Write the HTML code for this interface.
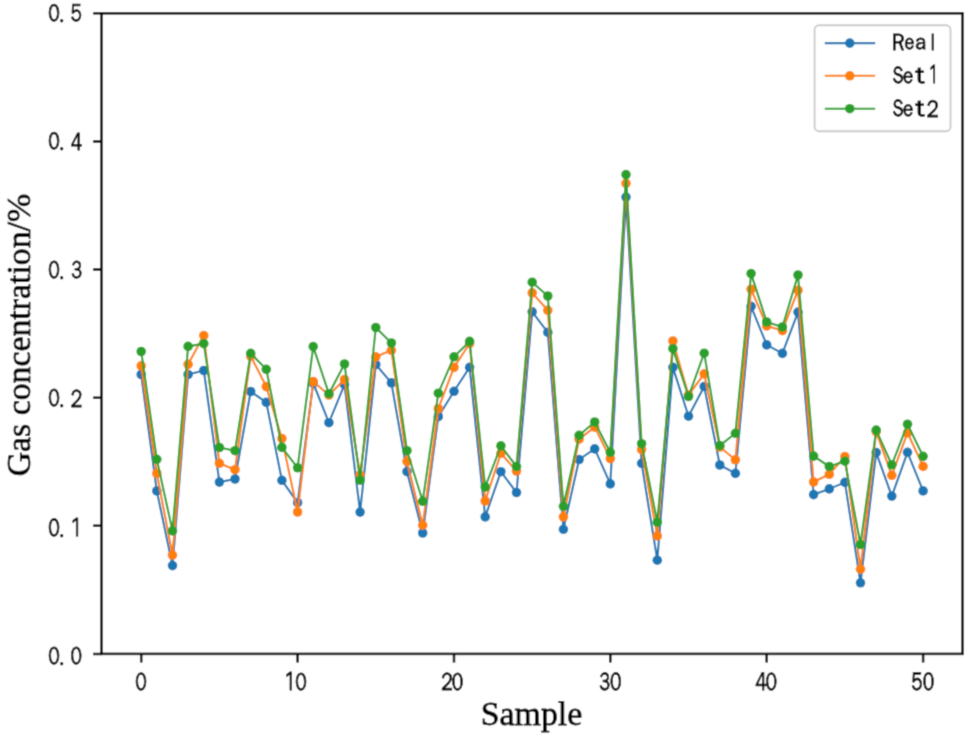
<!DOCTYPE html>
<html><head><meta charset="utf-8"><title>Gas concentration chart</title>
<style>html,body{margin:0;padding:0;background:#fff;width:968px;height:736px;overflow:hidden}svg{display:block}</style>
</head><body>
<svg width="968" height="736" viewBox="0 0 968 736">
<defs><filter id="soft" x="0" y="0" width="968" height="736" filterUnits="userSpaceOnUse"><feConvolveMatrix order="3" kernelMatrix="0.0622 0.2494 0.0622 0.2494 1.0000 0.2494 0.0622 0.2494 0.0622" edgeMode="duplicate" preserveAlpha="false"/></filter></defs>
<g filter="url(#soft)"><rect x="0" y="0" width="968" height="736" fill="#fff"/>
<clipPath id="c"><rect x="101.5" y="13.3" width="861.0" height="640.6"/></clipPath>
<g clip-path="url(#c)">
<polyline points="141.2,374.5 156.8,490.9 172.5,565.6 188.1,374.5 203.8,370.5 219.4,482.1 235.0,479.0 250.7,391.5 266.3,402.4 281.9,480.3 297.6,502.7 313.2,383.0 328.9,422.7 344.5,384.7 360.1,512.1 375.8,364.5 391.4,382.9 407.0,471.7 422.7,533.0 438.3,416.7 454.0,391.3 469.6,367.4 485.2,516.9 500.9,471.7 516.5,492.5 532.2,311.8 547.8,332.4 563.4,529.3 579.1,459.5 594.7,448.9 610.3,483.9 626.0,197.1 641.6,463.3 657.3,560.2 672.9,367.4 688.5,416.2 704.2,386.5 719.8,465.0 735.4,473.4 751.1,306.4 766.7,344.9 782.4,353.4 798.0,312.1 813.6,494.6 829.3,488.9 844.9,482.4 860.5,582.8 876.2,452.6 891.8,496.1 907.5,452.3 923.1,490.9" fill="none" stroke="#1f77b4" stroke-width="2.1" stroke-linejoin="round" stroke-linecap="butt"/>
<g fill="#1f77b4"><circle cx="141.2" cy="374.5" r="4.8"/><circle cx="156.8" cy="490.9" r="4.8"/><circle cx="172.5" cy="565.6" r="4.8"/><circle cx="188.1" cy="374.5" r="4.8"/><circle cx="203.8" cy="370.5" r="4.8"/><circle cx="219.4" cy="482.1" r="4.8"/><circle cx="235.0" cy="479.0" r="4.8"/><circle cx="250.7" cy="391.5" r="4.8"/><circle cx="266.3" cy="402.4" r="4.8"/><circle cx="281.9" cy="480.3" r="4.8"/><circle cx="297.6" cy="502.7" r="4.8"/><circle cx="313.2" cy="383.0" r="4.8"/><circle cx="328.9" cy="422.7" r="4.8"/><circle cx="344.5" cy="384.7" r="4.8"/><circle cx="360.1" cy="512.1" r="4.8"/><circle cx="375.8" cy="364.5" r="4.8"/><circle cx="391.4" cy="382.9" r="4.8"/><circle cx="407.0" cy="471.7" r="4.8"/><circle cx="422.7" cy="533.0" r="4.8"/><circle cx="438.3" cy="416.7" r="4.8"/><circle cx="454.0" cy="391.3" r="4.8"/><circle cx="469.6" cy="367.4" r="4.8"/><circle cx="485.2" cy="516.9" r="4.8"/><circle cx="500.9" cy="471.7" r="4.8"/><circle cx="516.5" cy="492.5" r="4.8"/><circle cx="532.2" cy="311.8" r="4.8"/><circle cx="547.8" cy="332.4" r="4.8"/><circle cx="563.4" cy="529.3" r="4.8"/><circle cx="579.1" cy="459.5" r="4.8"/><circle cx="594.7" cy="448.9" r="4.8"/><circle cx="610.3" cy="483.9" r="4.8"/><circle cx="626.0" cy="197.1" r="4.8"/><circle cx="641.6" cy="463.3" r="4.8"/><circle cx="657.3" cy="560.2" r="4.8"/><circle cx="672.9" cy="367.4" r="4.8"/><circle cx="688.5" cy="416.2" r="4.8"/><circle cx="704.2" cy="386.5" r="4.8"/><circle cx="719.8" cy="465.0" r="4.8"/><circle cx="735.4" cy="473.4" r="4.8"/><circle cx="751.1" cy="306.4" r="4.8"/><circle cx="766.7" cy="344.9" r="4.8"/><circle cx="782.4" cy="353.4" r="4.8"/><circle cx="798.0" cy="312.1" r="4.8"/><circle cx="813.6" cy="494.6" r="4.8"/><circle cx="829.3" cy="488.9" r="4.8"/><circle cx="844.9" cy="482.4" r="4.8"/><circle cx="860.5" cy="582.8" r="4.8"/><circle cx="876.2" cy="452.6" r="4.8"/><circle cx="891.8" cy="496.1" r="4.8"/><circle cx="907.5" cy="452.3" r="4.8"/><circle cx="923.1" cy="490.9" r="4.8"/></g>

<polyline points="141.2,365.8 156.8,473.4 172.5,555.1 188.1,364.3 203.8,335.6 219.4,463.3 235.0,469.7 250.7,356.0 266.3,386.6 281.9,438.6 297.6,512.0 313.2,381.5 328.9,395.0 344.5,379.5 360.1,475.0 375.8,356.8 391.4,350.3 407.0,461.4 422.7,525.2 438.3,408.7 454.0,367.4 469.6,343.5 485.2,501.0 500.9,453.3 516.5,471.1 532.2,292.9 547.8,310.3 563.4,516.9 579.1,439.2 594.7,427.1 610.3,458.6 626.0,183.3 641.6,449.6 657.3,535.9 672.9,341.0 688.5,395.0 704.2,373.9 719.8,447.0 735.4,459.8 751.1,289.2 766.7,325.9 782.4,330.6 798.0,290.2 813.6,482.0 829.3,474.3 844.9,456.6 860.5,569.2 876.2,431.6 891.8,475.3 907.5,432.8 923.1,466.4" fill="none" stroke="#ff7f0e" stroke-width="2.1" stroke-linejoin="round" stroke-linecap="butt"/>
<g fill="#ff7f0e"><circle cx="141.2" cy="365.8" r="4.8"/><circle cx="156.8" cy="473.4" r="4.8"/><circle cx="172.5" cy="555.1" r="4.8"/><circle cx="188.1" cy="364.3" r="4.8"/><circle cx="203.8" cy="335.6" r="4.8"/><circle cx="219.4" cy="463.3" r="4.8"/><circle cx="235.0" cy="469.7" r="4.8"/><circle cx="250.7" cy="356.0" r="4.8"/><circle cx="266.3" cy="386.6" r="4.8"/><circle cx="281.9" cy="438.6" r="4.8"/><circle cx="297.6" cy="512.0" r="4.8"/><circle cx="313.2" cy="381.5" r="4.8"/><circle cx="328.9" cy="395.0" r="4.8"/><circle cx="344.5" cy="379.5" r="4.8"/><circle cx="360.1" cy="475.0" r="4.8"/><circle cx="375.8" cy="356.8" r="4.8"/><circle cx="391.4" cy="350.3" r="4.8"/><circle cx="407.0" cy="461.4" r="4.8"/><circle cx="422.7" cy="525.2" r="4.8"/><circle cx="438.3" cy="408.7" r="4.8"/><circle cx="454.0" cy="367.4" r="4.8"/><circle cx="469.6" cy="343.5" r="4.8"/><circle cx="485.2" cy="501.0" r="4.8"/><circle cx="500.9" cy="453.3" r="4.8"/><circle cx="516.5" cy="471.1" r="4.8"/><circle cx="532.2" cy="292.9" r="4.8"/><circle cx="547.8" cy="310.3" r="4.8"/><circle cx="563.4" cy="516.9" r="4.8"/><circle cx="579.1" cy="439.2" r="4.8"/><circle cx="594.7" cy="427.1" r="4.8"/><circle cx="610.3" cy="458.6" r="4.8"/><circle cx="626.0" cy="183.3" r="4.8"/><circle cx="641.6" cy="449.6" r="4.8"/><circle cx="657.3" cy="535.9" r="4.8"/><circle cx="672.9" cy="341.0" r="4.8"/><circle cx="688.5" cy="395.0" r="4.8"/><circle cx="704.2" cy="373.9" r="4.8"/><circle cx="719.8" cy="447.0" r="4.8"/><circle cx="735.4" cy="459.8" r="4.8"/><circle cx="751.1" cy="289.2" r="4.8"/><circle cx="766.7" cy="325.9" r="4.8"/><circle cx="782.4" cy="330.6" r="4.8"/><circle cx="798.0" cy="290.2" r="4.8"/><circle cx="813.6" cy="482.0" r="4.8"/><circle cx="829.3" cy="474.3" r="4.8"/><circle cx="844.9" cy="456.6" r="4.8"/><circle cx="860.5" cy="569.2" r="4.8"/><circle cx="876.2" cy="431.6" r="4.8"/><circle cx="891.8" cy="475.3" r="4.8"/><circle cx="907.5" cy="432.8" r="4.8"/><circle cx="923.1" cy="466.4" r="4.8"/></g>

<polyline points="141.2,351.5 156.8,459.3 172.5,530.9 188.1,346.4 203.8,343.6 219.4,447.5 235.0,450.7 250.7,353.3 266.3,369.3 281.9,447.4 297.6,467.8 313.2,346.6 328.9,393.7 344.5,364.0 360.1,480.2 375.8,327.5 391.4,343.0 407.0,450.7 422.7,501.3 438.3,393.2 454.0,356.8 469.6,341.4 485.2,487.0 500.9,445.8 516.5,466.5 532.2,282.2 547.8,296.0 563.4,506.3 579.1,435.3 594.7,422.0 610.3,452.4 626.0,174.6 641.6,443.7 657.3,522.2 672.9,348.7 688.5,396.5 704.2,353.2 719.8,445.6 735.4,433.3 751.1,273.6 766.7,322.0 782.4,327.0 798.0,275.0 813.6,456.1 829.3,466.5 844.9,461.2 860.5,544.5 876.2,430.1 891.8,464.8 907.5,424.2 923.1,456.3" fill="none" stroke="#2ca02c" stroke-width="2.1" stroke-linejoin="round" stroke-linecap="butt"/>
<g fill="#2ca02c"><circle cx="141.2" cy="351.5" r="4.8"/><circle cx="156.8" cy="459.3" r="4.8"/><circle cx="172.5" cy="530.9" r="4.8"/><circle cx="188.1" cy="346.4" r="4.8"/><circle cx="203.8" cy="343.6" r="4.8"/><circle cx="219.4" cy="447.5" r="4.8"/><circle cx="235.0" cy="450.7" r="4.8"/><circle cx="250.7" cy="353.3" r="4.8"/><circle cx="266.3" cy="369.3" r="4.8"/><circle cx="281.9" cy="447.4" r="4.8"/><circle cx="297.6" cy="467.8" r="4.8"/><circle cx="313.2" cy="346.6" r="4.8"/><circle cx="328.9" cy="393.7" r="4.8"/><circle cx="344.5" cy="364.0" r="4.8"/><circle cx="360.1" cy="480.2" r="4.8"/><circle cx="375.8" cy="327.5" r="4.8"/><circle cx="391.4" cy="343.0" r="4.8"/><circle cx="407.0" cy="450.7" r="4.8"/><circle cx="422.7" cy="501.3" r="4.8"/><circle cx="438.3" cy="393.2" r="4.8"/><circle cx="454.0" cy="356.8" r="4.8"/><circle cx="469.6" cy="341.4" r="4.8"/><circle cx="485.2" cy="487.0" r="4.8"/><circle cx="500.9" cy="445.8" r="4.8"/><circle cx="516.5" cy="466.5" r="4.8"/><circle cx="532.2" cy="282.2" r="4.8"/><circle cx="547.8" cy="296.0" r="4.8"/><circle cx="563.4" cy="506.3" r="4.8"/><circle cx="579.1" cy="435.3" r="4.8"/><circle cx="594.7" cy="422.0" r="4.8"/><circle cx="610.3" cy="452.4" r="4.8"/><circle cx="626.0" cy="174.6" r="4.8"/><circle cx="641.6" cy="443.7" r="4.8"/><circle cx="657.3" cy="522.2" r="4.8"/><circle cx="672.9" cy="348.7" r="4.8"/><circle cx="688.5" cy="396.5" r="4.8"/><circle cx="704.2" cy="353.2" r="4.8"/><circle cx="719.8" cy="445.6" r="4.8"/><circle cx="735.4" cy="433.3" r="4.8"/><circle cx="751.1" cy="273.6" r="4.8"/><circle cx="766.7" cy="322.0" r="4.8"/><circle cx="782.4" cy="327.0" r="4.8"/><circle cx="798.0" cy="275.0" r="4.8"/><circle cx="813.6" cy="456.1" r="4.8"/><circle cx="829.3" cy="466.5" r="4.8"/><circle cx="844.9" cy="461.2" r="4.8"/><circle cx="860.5" cy="544.5" r="4.8"/><circle cx="876.2" cy="430.1" r="4.8"/><circle cx="891.8" cy="464.8" r="4.8"/><circle cx="907.5" cy="424.2" r="4.8"/><circle cx="923.1" cy="456.3" r="4.8"/></g>

</g>
<path d="M141.2,653.9v8.5 M297.6,653.9v8.5 M454.0,653.9v8.5 M610.3,653.9v8.5 M766.7,653.9v8.5 M923.1,653.9v8.5 M101.5,653.9h-8.5 M101.5,525.8h-8.5 M101.5,397.7h-8.5 M101.5,269.5h-8.5 M101.5,141.4h-8.5 M101.5,13.3h-8.5" stroke="#000" stroke-width="2.5" fill="none"/>
<rect x="101.5" y="13.3" width="861.0" height="640.6" fill="none" stroke="#000" stroke-width="2.5" stroke-linejoin="miter"/>
<g fill="#000"><text transform="translate(48.13,21.16) scale(0.793,1)" font-family='"WenQuanYi Zen Hei", "WenQuanYi Zen Hei", "Noto Sans CJK SC", sans-serif' font-size="24.26" stroke="#000" stroke-width="0.85">0</text><text transform="translate(59.20,22.17) scale(1.000,1)" font-family='"Noto Sans CJK SC", "WenQuanYi Zen Hei", "Noto Sans CJK SC", sans-serif' font-size="18.00" stroke="#000" stroke-width="0.85">.</text><text transform="translate(70.40,21.15) scale(0.773,1)" font-family='"WenQuanYi Zen Hei", "WenQuanYi Zen Hei", "Noto Sans CJK SC", sans-serif' font-size="24.60" stroke="#000" stroke-width="0.85">5</text><text transform="translate(48.13,149.36) scale(0.793,1)" font-family='"WenQuanYi Zen Hei", "WenQuanYi Zen Hei", "Noto Sans CJK SC", sans-serif' font-size="24.26" stroke="#000" stroke-width="0.85">0</text><text transform="translate(59.20,150.38) scale(1.000,1)" font-family='"Noto Sans CJK SC", "WenQuanYi Zen Hei", "Noto Sans CJK SC", sans-serif' font-size="18.00" stroke="#000" stroke-width="0.85">.</text><text transform="translate(70.83,149.60) scale(0.767,1)" font-family='"WenQuanYi Zen Hei", "WenQuanYi Zen Hei", "Noto Sans CJK SC", sans-serif' font-size="24.96" stroke="#000" stroke-width="0.85">4</text><text transform="translate(48.13,277.75) scale(0.779,1)" font-family='"WenQuanYi Zen Hei", "WenQuanYi Zen Hei", "Noto Sans CJK SC", sans-serif' font-size="24.68" stroke="#000" stroke-width="0.85">0</text><text transform="translate(59.20,278.77) scale(1.000,1)" font-family='"Noto Sans CJK SC", "WenQuanYi Zen Hei", "Noto Sans CJK SC", sans-serif' font-size="18.00" stroke="#000" stroke-width="0.85">.</text><text transform="translate(71.18,277.75) scale(0.725,1)" font-family='"WenQuanYi Zen Hei", "WenQuanYi Zen Hei", "Noto Sans CJK SC", sans-serif' font-size="24.68" stroke="#000" stroke-width="0.85">3</text><text transform="translate(48.13,406.35) scale(0.784,1)" font-family='"WenQuanYi Zen Hei", "WenQuanYi Zen Hei", "Noto Sans CJK SC", sans-serif' font-size="24.54" stroke="#000" stroke-width="0.85">0</text><text transform="translate(59.20,407.37) scale(1.000,1)" font-family='"Noto Sans CJK SC", "WenQuanYi Zen Hei", "Noto Sans CJK SC", sans-serif' font-size="18.00" stroke="#000" stroke-width="0.85">.</text><text transform="translate(70.47,406.60) scale(0.791,1)" font-family='"WenQuanYi Zen Hei", "WenQuanYi Zen Hei", "Noto Sans CJK SC", sans-serif' font-size="24.89" stroke="#000" stroke-width="0.85">2</text><text transform="translate(48.13,535.75) scale(0.766,1)" font-family='"WenQuanYi Zen Hei", "WenQuanYi Zen Hei", "Noto Sans CJK SC", sans-serif' font-size="25.11" stroke="#000" stroke-width="0.85">0</text><text transform="translate(59.20,536.77) scale(1.000,1)" font-family='"Noto Sans CJK SC", "WenQuanYi Zen Hei", "Noto Sans CJK SC", sans-serif' font-size="18.00" stroke="#000" stroke-width="0.85">.</text><text transform="translate(71.20,536.42) scale(0.801,1)" font-family='"WenQuanYi Zen Hei Mono", "WenQuanYi Zen Hei", "Noto Sans CJK SC", sans-serif' font-size="24.25" stroke="#000" stroke-width="0.85">1</text><text transform="translate(48.13,663.85) scale(0.784,1)" font-family='"WenQuanYi Zen Hei", "WenQuanYi Zen Hei", "Noto Sans CJK SC", sans-serif' font-size="24.54" stroke="#000" stroke-width="0.85">0</text><text transform="translate(59.20,664.88) scale(1.000,1)" font-family='"Noto Sans CJK SC", "WenQuanYi Zen Hei", "Noto Sans CJK SC", sans-serif' font-size="18.00" stroke="#000" stroke-width="0.85">.</text><text transform="translate(70.54,663.85) scale(0.776,1)" font-family='"WenQuanYi Zen Hei", "WenQuanYi Zen Hei", "Noto Sans CJK SC", sans-serif' font-size="24.54" stroke="#000" stroke-width="0.85">0</text><text transform="translate(135.23,689.95) scale(0.770,1)" font-family='"WenQuanYi Zen Hei", "WenQuanYi Zen Hei", "Noto Sans CJK SC", sans-serif' font-size="24.96" stroke="#000" stroke-width="0.85">0</text><text transform="translate(284.90,690.41) scale(0.819,1)" font-family='"WenQuanYi Zen Hei Mono", "WenQuanYi Zen Hei", "Noto Sans CJK SC", sans-serif' font-size="23.70" stroke="#000" stroke-width="0.85">1</text><text transform="translate(295.33,689.75) scale(0.784,1)" font-family='"WenQuanYi Zen Hei", "WenQuanYi Zen Hei", "Noto Sans CJK SC", sans-serif' font-size="24.54" stroke="#000" stroke-width="0.85">0</text><text transform="translate(441.07,690.00) scale(0.791,1)" font-family='"WenQuanYi Zen Hei", "WenQuanYi Zen Hei", "Noto Sans CJK SC", sans-serif' font-size="24.89" stroke="#000" stroke-width="0.85">2</text><text transform="translate(451.68,689.75) scale(0.784,1)" font-family='"WenQuanYi Zen Hei", "WenQuanYi Zen Hei", "Noto Sans CJK SC", sans-serif' font-size="24.54" stroke="#000" stroke-width="0.85">0</text><text transform="translate(599.33,689.75) scale(0.712,1)" font-family='"WenQuanYi Zen Hei", "WenQuanYi Zen Hei", "Noto Sans CJK SC", sans-serif' font-size="25.11" stroke="#000" stroke-width="0.85">3</text><text transform="translate(609.93,689.75) scale(0.766,1)" font-family='"WenQuanYi Zen Hei", "WenQuanYi Zen Hei", "Noto Sans CJK SC", sans-serif' font-size="25.11" stroke="#000" stroke-width="0.85">0</text><text transform="translate(755.23,690.30) scale(0.746,1)" font-family='"WenQuanYi Zen Hei", "WenQuanYi Zen Hei", "Noto Sans CJK SC", sans-serif' font-size="25.69" stroke="#000" stroke-width="0.85">4</text><text transform="translate(765.58,690.05) scale(0.770,1)" font-family='"WenQuanYi Zen Hei", "WenQuanYi Zen Hei", "Noto Sans CJK SC", sans-serif' font-size="24.96" stroke="#000" stroke-width="0.85">0</text><text transform="translate(911.20,690.04) scale(0.738,1)" font-family='"WenQuanYi Zen Hei", "WenQuanYi Zen Hei", "Noto Sans CJK SC", sans-serif' font-size="25.76" stroke="#000" stroke-width="0.85">5</text><text transform="translate(922.63,690.05) scale(0.757,1)" font-family='"WenQuanYi Zen Hei", "WenQuanYi Zen Hei", "Noto Sans CJK SC", sans-serif' font-size="25.39" stroke="#000" stroke-width="0.85">0</text></g>
<text x="531.5" y="725.2" text-anchor="middle" font-family='"Liberation Serif", "DejaVu Serif", serif' font-size="33.8" stroke="#000" stroke-width="0.8">Sample</text>
<text transform="translate(29.8,335.1) rotate(-90)" x="0" y="0" text-anchor="middle" font-family='"Liberation Serif", "DejaVu Serif", serif' font-size="33.8" stroke="#000" stroke-width="0.8">Gas concentration/%</text>
<rect x="814.6" y="25.3" width="135.9" height="105.9" rx="4.5" ry="4.5" fill="#fff" fill-opacity="0.8" stroke="#cccccc" stroke-width="1.9"/>
<line x1="824.8" y1="43.1" x2="875.2" y2="43.1" stroke="#1f77b4" stroke-width="2.1"/>
<circle cx="849.8" cy="43.1" r="4.8" fill="#1f77b4"/>
<line x1="824.8" y1="75.8" x2="875.2" y2="75.8" stroke="#ff7f0e" stroke-width="2.1"/>
<circle cx="849.8" cy="75.8" r="4.8" fill="#ff7f0e"/>
<line x1="824.8" y1="108.7" x2="875.2" y2="108.7" stroke="#2ca02c" stroke-width="2.1"/>
<circle cx="849.8" cy="108.7" r="4.8" fill="#2ca02c"/>
<g fill="#000"><text transform="translate(891.74,49.70) scale(0.881,1)" font-family='"WenQuanYi Zen Hei", "WenQuanYi Zen Hei", "Noto Sans CJK SC", sans-serif' font-size="23.50" stroke="#000" stroke-width="0.85">R</text><text transform="translate(904.41,49.49) scale(0.869,1)" font-family='"WenQuanYi Zen Hei", "WenQuanYi Zen Hei", "Noto Sans CJK SC", sans-serif' font-size="21.13" stroke="#000" stroke-width="0.85">e</text><text transform="translate(914.88,49.49) scale(0.962,1)" font-family='"WenQuanYi Zen Hei", "WenQuanYi Zen Hei", "Noto Sans CJK SC", sans-serif' font-size="21.13" stroke="#000" stroke-width="0.85">a</text><text transform="translate(930.60,49.70) scale(0.800,1)" font-family='"WenQuanYi Zen Hei", "WenQuanYi Zen Hei", "Noto Sans CJK SC", sans-serif' font-size="23.50" stroke="#000" stroke-width="0.85">l</text><text transform="translate(892.54,82.66) scale(0.753,1)" font-family='"WenQuanYi Zen Hei", "WenQuanYi Zen Hei", "Noto Sans CJK SC", sans-serif' font-size="23.69" stroke="#000" stroke-width="0.85">S</text><text transform="translate(903.09,82.68) scale(0.854,1)" font-family='"WenQuanYi Zen Hei", "WenQuanYi Zen Hei", "Noto Sans CJK SC", sans-serif' font-size="22.26" stroke="#000" stroke-width="0.85">e</text><text transform="translate(915.53,82.67) scale(1.201,1)" font-family='"WenQuanYi Zen Hei", "WenQuanYi Zen Hei", "Noto Sans CJK SC", sans-serif' font-size="23.36" stroke="#000" stroke-width="0.85">t</text><text transform="translate(929.52,83.30) scale(0.679,1)" font-family='"WenQuanYi Zen Hei Mono", "WenQuanYi Zen Hei", "Noto Sans CJK SC", sans-serif' font-size="22.88" stroke="#000" stroke-width="0.85">1</text><text transform="translate(892.54,116.36) scale(0.753,1)" font-family='"WenQuanYi Zen Hei", "WenQuanYi Zen Hei", "Noto Sans CJK SC", sans-serif' font-size="23.69" stroke="#000" stroke-width="0.85">S</text><text transform="translate(903.09,116.38) scale(0.854,1)" font-family='"WenQuanYi Zen Hei", "WenQuanYi Zen Hei", "Noto Sans CJK SC", sans-serif' font-size="22.26" stroke="#000" stroke-width="0.85">e</text><text transform="translate(915.53,116.37) scale(1.201,1)" font-family='"WenQuanYi Zen Hei", "WenQuanYi Zen Hei", "Noto Sans CJK SC", sans-serif' font-size="23.36" stroke="#000" stroke-width="0.85">t</text><text transform="translate(926.62,116.60) scale(0.854,1)" font-family='"WenQuanYi Zen Hei", "WenQuanYi Zen Hei", "Noto Sans CJK SC", sans-serif' font-size="24.03" stroke="#000" stroke-width="0.85">2</text></g>
</g></svg>
</body></html>
